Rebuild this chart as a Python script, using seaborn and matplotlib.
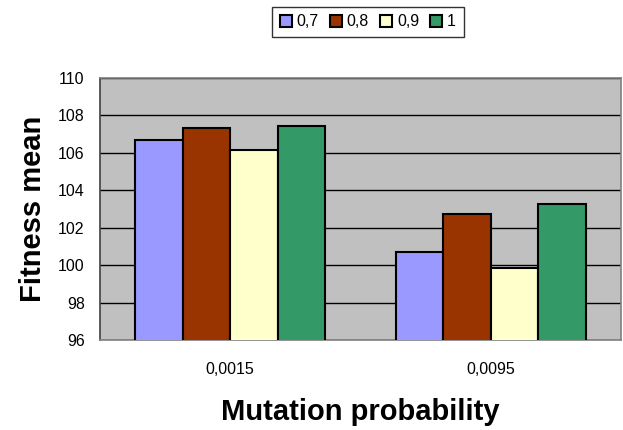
import matplotlib
matplotlib.use("Agg")
import matplotlib.pyplot as plt
import seaborn as sns
import pandas as pd
from matplotlib.patches import Patch
from matplotlib.ticker import FixedLocator

categories = ["0,0015", "0,0095"]
series = ["0,7", "0,8", "0,9", "1"]
values_07 = [106.67, 100.69]
values_08 = [107.31, 102.73]
values_09 = [106.14, 99.83]
values_1 = [107.42, 103.27]
y_ticks = [96, 98, 100, 102, 104, 106, 108, 110]

colors = ["#9999FF", "#993300", "#FFFFCC", "#339966"]

rows = []
for s, vals in zip(series, [values_07, values_08, values_09, values_1]):
    for c, v in zip(categories, vals):
        rows.append({"Mutation probability": c, "series": s, "Fitness mean": v})
df = pd.DataFrame(rows)

sns.set_style("white")
plt.rcParams["font.family"] = ["Liberation Sans", "DejaVu Sans"]
plt.rcParams["text.color"] = "black"
plt.rcParams["axes.labelcolor"] = "black"
plt.rcParams["xtick.color"] = "black"
plt.rcParams["ytick.color"] = "black"

fig = plt.figure(figsize=(6.23, 4.30), dpi=100)
ax = fig.add_axes([100/623, 90/430, 521/623, 262/430])
ax.set_facecolor("#C0C0C0")

sns.barplot(data=df, x="Mutation probability", y="Fitness mean", hue="series",
            hue_order=series, order=categories, palette=colors, width=0.73,
            saturation=1, edgecolor="black", linewidth=1.5, ax=ax,
            legend=False, zorder=3)

ax.set_ylim(96, 110)
ax.set_xlim(-0.5, 1.5)
ax.set_yticks(y_ticks)
ax.set_yticklabels([str(t) for t in y_ticks], fontsize=11.5)
ax.yaxis.grid(True, color="black", linewidth=1, zorder=1)
ax.set_axisbelow(True)

ax.tick_params(axis="x", which="major", length=0, labelsize=11.5, pad=16)
ax.xaxis.set_minor_locator(FixedLocator([-0.5, 0.5, 1.5]))
ax.tick_params(axis="x", which="minor", length=5, direction="out", color="#606060", width=1)
ax.tick_params(axis="y", length=5, direction="out", color="black", width=1, pad=6)

for side in ["top", "right", "bottom"]:
    ax.spines[side].set_color("#808080")
    ax.spines[side].set_linewidth(1.2)
ax.spines["left"].set_color("#404040")
ax.spines["left"].set_linewidth(1.2)

ax.set_xlabel("Mutation probability", fontsize=21, fontweight="bold", labelpad=15)
ax.set_ylabel("Fitness mean", fontsize=21, fontweight="bold", labelpad=8)

handles = [Patch(facecolor=c, edgecolor="black", linewidth=1.5) for c in colors]
leg = fig.legend(handles, series, loc="center", bbox_to_anchor=(368/623, 1 - 22/430),
                 ncol=4, frameon=True, fancybox=False, fontsize=11.5,
                 handlelength=0.75, handleheight=0.75, handletextpad=0.3,
                 columnspacing=0.7, borderpad=0.5, edgecolor="black")
leg.get_frame().set_linewidth(1)

fig.savefig("out.png", dpi=100)
